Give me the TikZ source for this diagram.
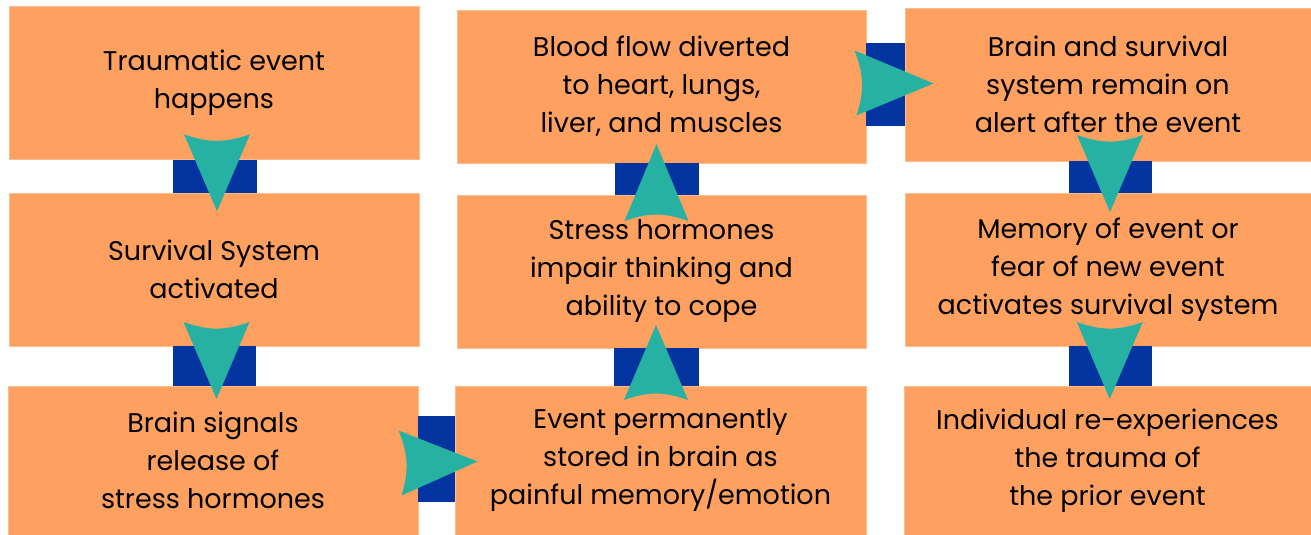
\documentclass[tikz,border=0pt]{standalone}
\usepackage{fontspec}
\setmainfont{Poppins}
\usepackage{tikz}
\usetikzlibrary{calc}
\usepackage{xcolor}
\definecolor{ptsd-orange}{RGB}{254,161,96}
\definecolor{ptsd-blue}{RGB}{3,52,160}
\definecolor{ptsd-teal}{RGB}{38,177,162}

\begin{document}
\begin{tikzpicture}[x=1pt, y=1pt,
    stepbox/.style={fill=ptsd-orange, draw=ptsd-orange!70!white, line width=0.6pt, inner sep=0pt, align=center, font=\fontsize{27}{38}\selectfont},
    linkbar/.style={fill=ptsd-blue},
    headfill/.style={fill=ptsd-teal}]
            \useasboundingbox (0,0) rectangle (1311,535);
            
            % Column 1
            \node[stepbox, minimum width=410, minimum height=153] (trauma) at (214,452) {Traumatic event\\happens};
            \node[stepbox, minimum width=410, minimum height=153] (survival) at (214,265.5) {Survival System\\activated};
            \node[stepbox, minimum width=410, minimum height=149] (signals) at (213,74.5) {Brain signals\\release of\\stress hormones};
            
            % Column 2
            \node[stepbox, minimum width=411, minimum height=149] (stored) at (660.5,74.5) {Event permanently\\stored in brain as\\painful memory/emotion};
            \node[stepbox, minimum width=409, minimum height=153] (hormones) at (661.5,263.5) {Stress hormones\\impair thinking and\\ability to cope};
            \node[stepbox, minimum width=409, minimum height=153] (blood) at (661.5,448.5) {Blood flow diverted\\to heart, lungs,\\liver, and muscles};
            
            % Column 3
            \node[stepbox, minimum width=406, minimum height=153] (alert) at (1108,450.5) {Brain and survival\\system remain on\\alert after the event};
            \node[stepbox, minimum width=406, minimum height=153] (memory) at (1108,265.5) {Memory of event or\\fear of new event\\activates survival system};
            \node[stepbox, minimum width=407, minimum height=149] (relive) at (1107.5,74.5) {Individual re-experiences\\the trauma of\\the prior event};
            
            % Connections: blue bars
            \fill[linkbar] ([xshift=-41]trauma.south) rectangle ([xshift=43]survival.north);
            \fill[linkbar] ([xshift=-41]survival.south) rectangle ([xshift=43]signals.north);
            \fill[linkbar] ([yshift=-42]signals.east) rectangle ([yshift=44]stored.west);
            \fill[linkbar] ([xshift=-47]stored.north) rectangle ([xshift=37]hormones.south);
            \fill[linkbar] ([xshift=-47]hormones.north) rectangle ([xshift=37]blood.south);
            \fill[linkbar] ([yshift=-40]blood.east) rectangle ([yshift=41.5]alert.west);
            \fill[linkbar] ([xshift=-39]alert.south) rectangle ([xshift=44]memory.north);
            \fill[linkbar] ([xshift=-39]memory.south) rectangle ([xshift=44]relive.north);
            
            % Connections: arrow heads
            \coordinate (c1) at ($(trauma.south)!0.5!(survival.north)+(3,0)$);
            \coordinate (c2) at ($(survival.south)!0.5!(signals.north)+(3,0)$);
            \coordinate (c3) at ($(signals.east)!0.5!(stored.west)+(0,0)$);
            \coordinate (c4) at ($(stored.north)!0.5!(hormones.south)+(-5,0)$);
            \coordinate (c5) at ($(hormones.north)!0.5!(blood.south)+(-5,0)$);
            \coordinate (c6) at ($(blood.east)!0.5!(alert.west)+(0,0)$);
            \coordinate (c7) at ($(alert.south)!0.5!(memory.north)+(2,0)$);
            \coordinate (c8) at ($(memory.south)!0.5!(relive.north)+(2,0)$);
            \fill[headfill] ($(c1)+(-33,42)$) to[bend right=20] ($(c1)+(33,42)$) -- ($(c1)+(0,-35)$) -- cycle;
            \fill[headfill] ($(c2)+(-33,44)$) to[bend right=20] ($(c2)+(33,44)$) -- ($(c2)+(0,-33)$) -- cycle;
            \fill[headfill] ($(c3)+(-38,30)$) to[bend left=20] ($(c3)+(-35,-35)$) -- ($(c3)+(41,-1)$) -- cycle;
            \fill[headfill] ($(c4)+(-32,-33)$) to[bend left=20] ($(c4)+(32,-33)$) -- ($(c4)+(0,42)$) -- cycle;
            \fill[headfill] ($(c5)+(-32,-42)$) to[bend left=20] ($(c5)+(32,-42)$) -- ($(c5)+(0,35)$) -- cycle;
            \fill[headfill] ($(c6)+(-31,35)$) to[bend left=20] ($(c6)+(-29,-30)$) -- ($(c6)+(48,2)$) -- cycle;
            \fill[headfill] ($(c7)+(-33,42)$) to[bend right=20] ($(c7)+(33,42)$) -- ($(c7)+(0,-35)$) -- cycle;
            \fill[headfill] ($(c8)+(-33,44)$) to[bend right=20] ($(c8)+(33,44)$) -- ($(c8)+(0,-33)$) -- cycle;
        \end{tikzpicture}
\end{document}
